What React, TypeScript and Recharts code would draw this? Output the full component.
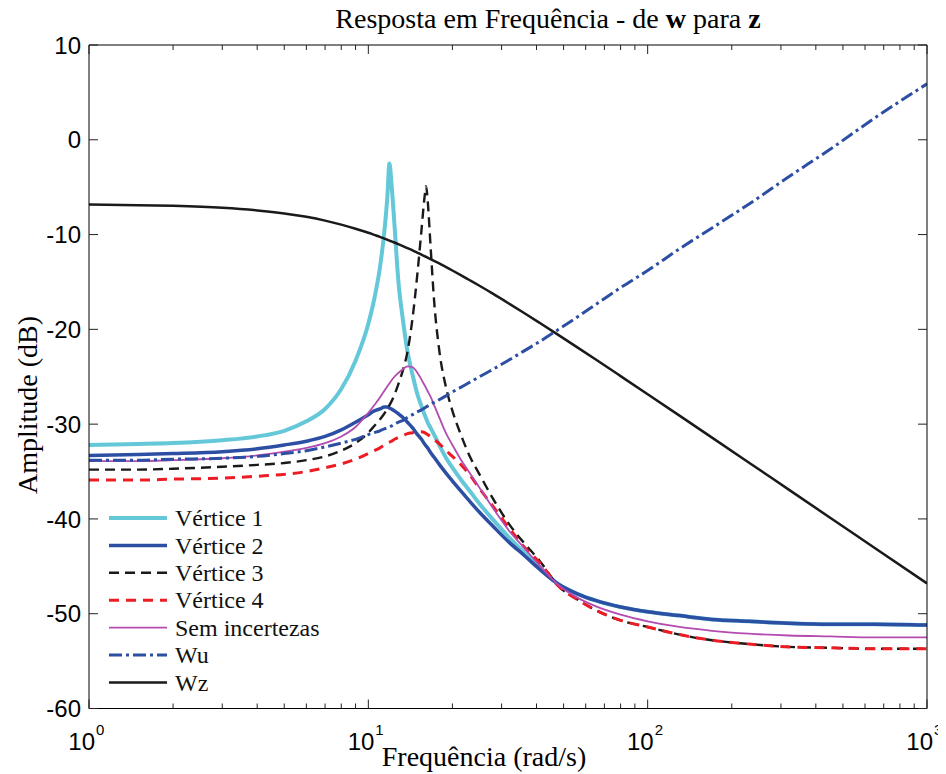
import React from 'react';
import { LineChart, Line, XAxis, YAxis, Legend } from 'recharts';

const FREQUENCIES = [
  1, 1.5, 2, 3, 4, 5, 6, 7, 8, 9,
  10, 10.5, 11, 11.4, 11.7, 11.9, 12.1, 12.4, 12.8, 13.3,
  13.8, 14.4, 15, 15.5, 15.9, 16.1, 16.3, 16.7, 17.2, 18,
  19, 20, 21.5, 23, 25, 28, 32, 36, 41, 48,
  56, 65, 80, 100, 130, 170, 230, 320, 450, 650,
  1000,
];

const VERTICE_1 = [
  -32.2, -32.1, -32.0, -31.7, -31.3, -30.7, -29.7, -28.4, -26.3, -23.3,
  -19.4, -16.8, -13.5, -9.8, -6.0, -2.5, -4.6, -8.9, -14.8, -19.0,
  -22.3, -24.8, -26.9, -28.1, -29.0, -29.4, -29.8, -30.4, -31.1, -32.3,
  -33.6, -34.6, -35.9, -37.0, -38.4, -40.1, -42.0, -43.5, -45.1, -46.9,
  -47.9, -48.6, -49.3, -49.8, -50.2, -50.6, -50.8, -51.0, -51.1, -51.1,
  -51.2,
];

const VERTICE_2 = [
  -33.3, -33.2, -33.1, -32.9, -32.6, -32.2, -31.8, -31.3, -30.6, -29.8,
  -29.0, -28.6, -28.4, -28.2, -28.2, -28.3, -28.4, -28.6, -28.9, -29.3,
  -29.8, -30.4, -31.1, -31.6, -32.1, -32.3, -32.5, -33.0, -33.5, -34.3,
  -35.2, -36.0, -37.1, -38.1, -39.3, -40.8, -42.5, -43.8, -45.3, -46.9,
  -47.9, -48.6, -49.3, -49.8, -50.2, -50.6, -50.8, -51.0, -51.1, -51.1,
  -51.2,
];

const VERTICE_3 = [
  -34.8, -34.8, -34.7, -34.5, -34.3, -34.1, -33.8, -33.4, -32.8, -32.0,
  -30.9, -30.2, -29.5, -28.9, -28.4, -28.0, -27.6, -26.9, -25.8, -24.3,
  -22.4, -18.8, -14.0, -9.5, -6.0, -4.9, -6.3, -11.2, -17.0, -22.5,
  -26.2, -28.6, -31.2, -33.3, -35.3, -37.9, -40.6, -42.5, -44.4, -47.1,
  -48.5, -49.6, -50.7, -51.4, -52.2, -52.8, -53.2, -53.5, -53.6, -53.7,
  -53.7,
];

const VERTICE_4 = [
  -35.9, -35.9, -35.8, -35.7, -35.5, -35.3, -35.0, -34.6, -34.2, -33.7,
  -33.1, -32.8, -32.5, -32.2, -32.0, -31.9, -31.8, -31.6, -31.4, -31.2,
  -31.0, -30.9, -30.8, -30.8, -30.9, -31.0, -31.1, -31.3, -31.6, -32.1,
  -32.8, -33.4, -34.3, -35.3, -36.8, -38.7, -41.0, -42.9, -44.6, -47.1,
  -48.5, -49.6, -50.7, -51.4, -52.2, -52.8, -53.2, -53.5, -53.6, -53.7,
  -53.7,
];

const SEM_INCERTEZAS = [
  -33.9, -33.9, -33.8, -33.6, -33.3, -32.9, -32.5, -32.0, -31.3, -30.3,
  -28.8, -28.0, -27.2, -26.5, -26.0, -25.7, -25.4, -25.0, -24.6, -24.2,
  -23.9, -24.0, -24.6, -25.3, -25.9, -26.2, -26.5, -27.1, -28.0, -29.4,
  -31.0, -32.2, -33.8, -35.1, -36.7, -38.9, -41.3, -43.0, -44.9, -47.0,
  -48.3, -49.2, -50.1, -50.8, -51.4, -51.8, -52.1, -52.3, -52.4, -52.5,
  -52.5,
];

const WU = [
  -33.8, -33.8, -33.7, -33.6, -33.4, -33.1, -32.8, -32.4, -32.0, -31.6,
  -31.1, -30.9, -30.7, -30.5, -30.4, -30.3, -30.2, -30.0, -29.8, -29.6,
  -29.3, -29.0, -28.7, -28.5, -28.3, -28.2, -28.1, -27.9, -27.7, -27.4,
  -27.0, -26.6, -26.1, -25.6, -25.0, -24.2, -23.2, -22.3, -21.3, -20.0,
  -18.7, -17.4, -15.6, -13.8, -11.5, -9.3, -6.8, -3.9, -1.0, 2.3,
  5.9,
];

const WZ = [
  -6.84, -6.90, -6.97, -7.17, -7.45, -7.77, -8.13, -8.53, -8.95, -9.38,
  -9.81, -10.03, -10.24, -10.42, -10.55, -10.63, -10.72, -10.84, -11.01, -11.22,
  -11.43, -11.67, -11.92, -12.12, -12.28, -12.35, -12.43, -12.59, -12.78, -13.07,
  -13.44, -13.79, -14.30, -14.79, -15.40, -16.26, -17.31, -18.25, -19.31, -20.61,
  -21.90, -23.16, -24.93, -26.84, -29.10, -31.42, -34.04, -36.91, -39.87, -43.06,
  -46.8,
];

const X_TICKS = [
  1, 2, 3, 4, 5, 6, 7, 8, 9,
  10, 20, 30, 40, 50, 60, 70, 80, 90,
  100, 200, 300, 400, 500, 600, 700, 800, 900,
  1000,
];
const X_DECADES = [1, 10, 100, 1000];
const Y_TICKS = [-60, -50, -40, -30, -20, -10, 0, 10];

const TITLE = 'Resposta em Frequência - de ';
const X_LABEL = 'Frequência (rad/s)';
const Y_LABEL = 'Amplitude (dB)';

const SERIES = [
  { key: 'v1', name: 'Vértice 1', values: VERTICE_1, color: '#64c8d9', width: 4, dash: undefined },
  { key: 'v2', name: 'Vértice 2', values: VERTICE_2, color: '#2d4fa3', width: 3.5, dash: undefined },
  { key: 'v3', name: 'Vértice 3', values: VERTICE_3, color: '#1a1a1a', width: 2.4, dash: '10 6' },
  { key: 'v4', name: 'Vértice 4', values: VERTICE_4, color: '#ec1c24', width: 3, dash: '10 7' },
  { key: 'sem', name: 'Sem incertezas', values: SEM_INCERTEZAS, color: '#b44bb0', width: 1.8, dash: undefined },
  { key: 'wu', name: 'Wu', values: WU, color: '#2d4fa3', width: 3, dash: '13 4 3 4' },
  { key: 'wz', name: 'Wz', values: WZ, color: '#1a1a1a', width: 2.5, dash: undefined },
];

const data = FREQUENCIES.map((f, i) => {
  const row: Record<string, number> = { f };
  SERIES.forEach((s) => {
    row[s.key] = s.values[i];
  });
  return row;
});

const SANS = '"Liberation Sans", Arial, Helvetica, sans-serif';
const SERIF = '"Liberation Serif", "Times New Roman", Times, serif';

const BottomTick = (props: any) => {
  const { x, y, payload } = props;
  const v = payload.value;
  const major = X_DECADES.includes(v);
  const exp = Math.round(Math.log10(v));
  return (
    <g>
      <line x1={x} x2={x} y1={y} y2={y - (major ? 9 : 5)} stroke="#222" strokeWidth={1} />
      {major && (
        <text x={x + 6} y={y + 41} textAnchor="end" fontFamily={SANS} fontSize={24} fill="#000">
          10
        </text>
      )}
      {major && (
        <text x={x + 7} y={y + 26} textAnchor="start" fontFamily={SANS} fontSize={15} fill="#000">
          {exp}
        </text>
      )}
    </g>
  );
};

const TopTick = (props: any) => {
  const { x, y, payload } = props;
  const major = X_DECADES.includes(payload.value);
  return <line x1={x} x2={x} y1={y} y2={y + (major ? 9 : 5)} stroke="#222" strokeWidth={1} />;
};

const LeftTick = (props: any) => {
  const { x, y, payload } = props;
  return (
    <g>
      <line x1={x} x2={x + 9} y1={y} y2={y} stroke="#222" strokeWidth={1} />
      <text x={x - 8} y={y} dy="0.36em" textAnchor="end" fontFamily={SANS} fontSize={24} fill="#000">
        {payload.value}
      </text>
    </g>
  );
};

const RightTick = (props: any) => {
  const { x, y } = props;
  return <line x1={x} x2={x - 9} y1={y} y2={y} stroke="#222" strokeWidth={1} />;
};

const LegendContent = () => (
  <svg width={240} height={200} style={{ display: 'block', overflow: 'visible' }}>
    {SERIES.map((s, i) => {
      const cy = 15 + i * 27.4;
      return (
        <g key={s.key}>
          <line
            x1={9}
            x2={67}
            y1={cy}
            y2={cy}
            stroke={s.color}
            strokeWidth={s.width}
            strokeDasharray={s.dash}
          />
          <text x={75} y={cy} dy="0.34em" fontFamily={SERIF} fontSize={24} fill="#111">
            {s.name}
          </text>
        </g>
      );
    })}
  </svg>
);

export default function App() {
  return (
    <div style={{ width: 938, height: 766 }}>
      <style>{'.recharts-surface{overflow:visible}'}</style>
      <LineChart
        width={938}
        height={766}
        data={data}
        margin={{ top: 36, right: 18, bottom: 25.5, left: 11 }}
      >
        <XAxis
          dataKey="f"
          type="number"
          scale="log"
          domain={[1, 1000]}
          allowDataOverflow
          ticks={X_TICKS}
          interval={0}
          height={40}
          tickSize={0}
          tickMargin={0}
          tickLine={false}
          axisLine={{ stroke: '#000', strokeWidth: 1 }}
          tick={BottomTick}
          label={{
            content: () => (
              <text x={476} y={758} textAnchor="middle" fontFamily={SERIF} fontSize={28} fill="#000">
                {X_LABEL}
              </text>
            ),
          }}
        />
        <XAxis
          xAxisId="top"
          orientation="top"
          dataKey="f"
          type="number"
          scale="log"
          domain={[1, 1000]}
          allowDataOverflow
          ticks={X_TICKS}
          interval={0}
          height={1}
          tickSize={0}
          tickMargin={0}
          tickLine={false}
          axisLine={{ stroke: '#000', strokeWidth: 1 }}
          tick={TopTick}
          label={{
            content: () => (
              <text x={540} y={19.5} textAnchor="middle" fontFamily={SERIF} fontSize={28} fill="#000">
                {TITLE}
                <tspan fontWeight="bold">w</tspan>
                {' para '}
                <tspan fontWeight="bold">z</tspan>
              </text>
            ),
          }}
        />
        <YAxis
          type="number"
          domain={[-60, 10]}
          allowDataOverflow
          ticks={Y_TICKS}
          interval={0}
          width={70}
          tickSize={0}
          tickMargin={0}
          tickLine={false}
          axisLine={{ stroke: '#000', strokeWidth: 1 }}
          tick={LeftTick}
          label={{
            content: () => (
              <text
                transform="translate(19,397) rotate(-90)"
                textAnchor="middle"
                dy="0.35em"
                fontFamily={SERIF}
                fontSize={28}
                fill="#000"
              >
                {Y_LABEL}
              </text>
            ),
          }}
        />
        <YAxis
          yAxisId="right"
          orientation="right"
          type="number"
          domain={[-60, 10]}
          allowDataOverflow
          ticks={Y_TICKS}
          interval={0}
          width={1}
          tickSize={0}
          tickMargin={0}
          tickLine={false}
          axisLine={{ stroke: '#000', strokeWidth: 1 }}
          tick={RightTick}
        />
        {SERIES.map((s) => (
          <Line
            key={s.key}
            dataKey={s.key}
            name={s.name}
            type="monotone"
            stroke={s.color}
            strokeWidth={s.width}
            strokeDasharray={s.dash}
            dot={false}
            activeDot={false}
            isAnimationActive={false}
          />
        ))}
        <Legend
          layout="vertical"
          align="center"
          verticalAlign="middle"
          content={LegendContent}
          wrapperStyle={{ left: 92, top: 495, width: 240, height: 200 }}
        />
      </LineChart>
    </div>
  );
}
